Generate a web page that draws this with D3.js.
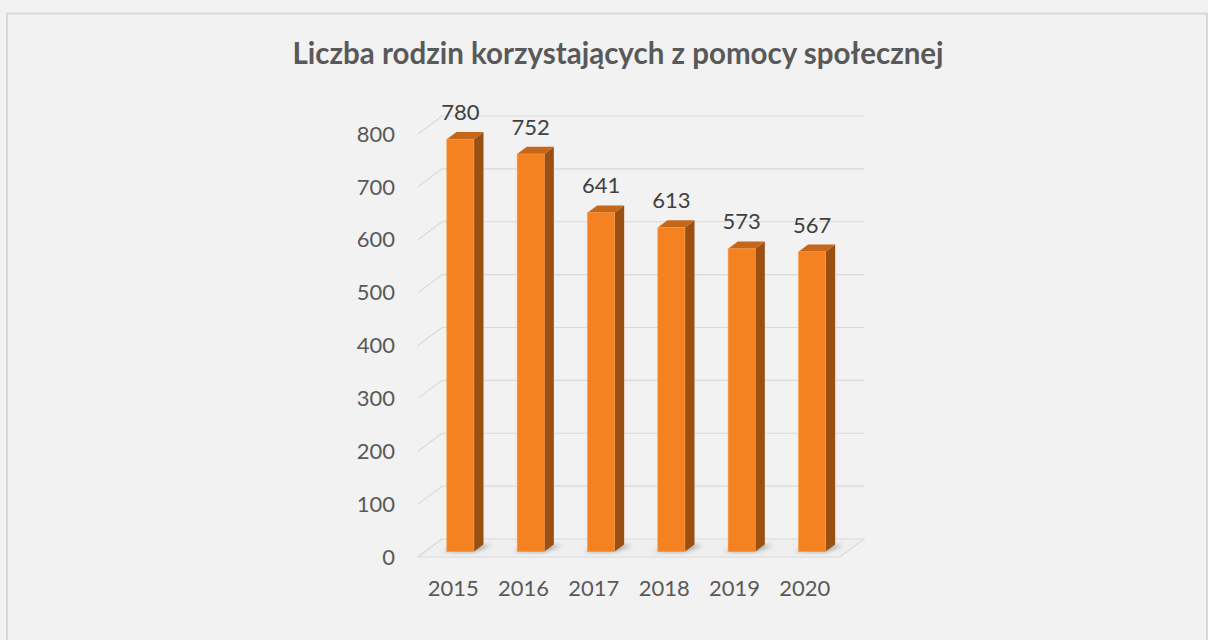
<!DOCTYPE html>
<html>
<head>
<meta charset="utf-8">
<script src="https://cdn.jsdelivr.net/npm/d3@7"></script>
<style>
  body { margin: 0; background: #f2f2f2; }
  svg { display: block; }
</style>
</head>
<body>
<div id="main"></div>
<script>
// chart data
const title = 'Liczba rodzin korzystających z pomocy społecznej';
const years = ['2015', '2016', '2017', '2018', '2019', '2020'];
const families = [780, 752, 641, 613, 573, 567];
const yTicks = [0, 100, 200, 300, 400, 500, 600, 700, 800];

const width = 1208;
const height = 640;
const depthX = 24; // full depth of the 3d box, x shift
const depthY = -18; // full depth of the 3d box, y shift
const barFront = 0.3; // bar front face position within the depth
const barBack = 0.7; // bar back face position within the depth
const font = 'Lato, "Open Sans", sans-serif';

const svg = d3.select('#main')
  .append('svg')
  .attr('width', width)
  .attr('height', height);

// frame of the chart area
svg.append('rect')
  .attr('x', 7)
  .attr('y', 13.5)
  .attr('width', 1200)
  .attr('height', 640)
  .attr('fill', '#f2f2f2')
  .attr('stroke', '#d9d9d9')
  .attr('stroke-width', 2);

const x = d3.scaleBand()
  .domain(years)
  .range([418, 840]);
const y = d3.scaleLinear()
  .domain([0, 800])
  .range([557, 134]);

// back wall gridlines plus the diagonal on the left wall
const grid = svg.append('g').attr('stroke', '#d9d9d9').attr('stroke-width', 1.2);
grid.selectAll('line.back')
  .data(yTicks.slice(1))
  .enter()
  .append('line')
  .attr('x1', x.range()[0] + depthX)
  .attr('x2', x.range()[1] + depthX)
  .attr('y1', d => y(d) + depthY)
  .attr('y2', d => y(d) + depthY);
grid.selectAll('line.side')
  .data(yTicks)
  .enter()
  .append('line')
  .attr('x1', x.range()[0])
  .attr('x2', x.range()[0] + depthX)
  .attr('y1', d => y(d))
  .attr('y2', d => y(d) + depthY);

// floor
const [fx0, fx1] = x.range();
const fy = y(0);
svg.append('path')
  .attr('d', `M${fx0},${fy}L${fx1},${fy}L${fx1 + depthX},${fy + depthY}L${fx0 + depthX},${fy + depthY}Z`)
  .attr('fill', '#efefef')
  .attr('stroke', '#d9d9d9')
  .attr('stroke-width', 1.2);

// soft shadow below the bars
const defs = svg.append('defs');
defs.append('filter')
  .attr('id', 'blur')
  .attr('x', '-50%').attr('y', '-50%').attr('width', '200%').attr('height', '200%')
  .append('feGaussianBlur')
  .attr('stdDeviation', 2.2);

const barW = x.bandwidth() * 0.385;
const fdx = depthX * barFront;
const fdy = depthY * barFront;
const bdx = depthX * (barBack - barFront);
const bdy = depthY * (barBack - barFront);

const bars = svg.append('g')
  .selectAll('g')
  .data(years.map((d, i) => ({ year: d, value: families[i] })))
  .enter()
  .append('g')
  .attr('transform', d => `translate(${x(d.year) + (x.bandwidth() - barW) / 2 + fdx},${fdy})`);

bars.append('path')
  .attr('d', () => {
    const b = y(0);
    return `M-4,${b}L${barW},${b}L${barW + bdx + 8},${b + bdy + 1}L${bdx + 4},${b + bdy + 1}Z`;
  })
  .attr('fill', '#555')
  .attr('opacity', 0.55)
  .attr('filter', 'url(#blur)');

// right side face
bars.append('path')
  .attr('d', d => `M${barW},${y(d.value)}L${barW + bdx},${y(d.value) + bdy}L${barW + bdx},${y(0) + bdy}L${barW},${y(0)}Z`)
  .attr('fill', '#9b5012');
// top face
bars.append('path')
  .attr('d', d => `M0,${y(d.value)}L${bdx},${y(d.value) + bdy}L${barW + bdx},${y(d.value) + bdy}L${barW},${y(d.value)}Z`)
  .attr('fill', '#c5661a');
// front face
bars.append('rect')
  .attr('x', 0)
  .attr('y', d => y(d.value))
  .attr('width', barW)
  .attr('height', d => y(0) - y(d.value))
  .attr('fill', '#f58220')
  .attr('stroke', '#f79a4a')
  .attr('stroke-width', 0.6);

// value labels
bars.append('text')
  .attr('x', barW / 2)
  .attr('y', d => y(d.value) + bdy - 12)
  .attr('text-anchor', 'middle')
  .attr('font-family', font)
  .attr('font-size', 22)
  .attr('fill', '#404040')
  .text(d => d.value);

// y axis labels
svg.append('g')
  .selectAll('text')
  .data(yTicks)
  .enter()
  .append('text')
  .attr('x', 395)
  .attr('y', d => y(d))
  .attr('dy', '0.35em')
  .attr('text-anchor', 'end')
  .attr('font-family', font)
  .attr('font-size', 22)
  .attr('fill', '#595959')
  .text(d => d);

// x axis labels
svg.append('g')
  .selectAll('text')
  .data(years)
  .enter()
  .append('text')
  .attr('x', d => x(d) + x.bandwidth() / 2)
  .attr('y', 596)
  .attr('text-anchor', 'middle')
  .attr('font-family', font)
  .attr('font-size', 22)
  .attr('fill', '#595959')
  .text(d => d);

// title
svg.append('text')
  .attr('x', 618)
  .attr('y', 64)
  .attr('text-anchor', 'middle')
  .attr('font-family', font)
  .attr('font-weight', 'bold')
  .attr('font-size', 29.5)
  .attr('fill', '#595959')
  .text(title);
</script>
</body>
</html>
